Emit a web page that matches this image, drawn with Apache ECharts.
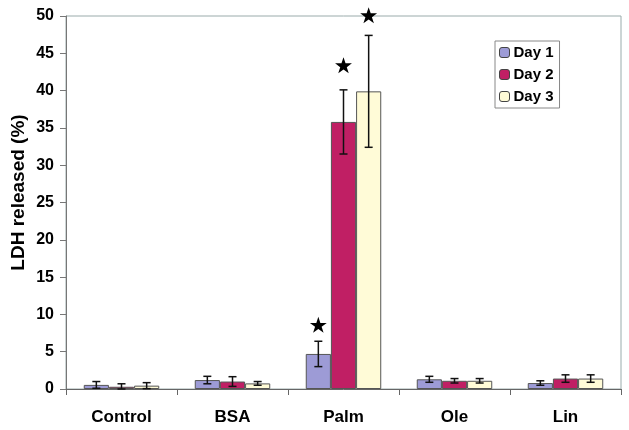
<!DOCTYPE html>
<html>
<head>
<meta charset="utf-8">
<script src="https://cdn.jsdelivr.net/npm/echarts@6/dist/echarts.min.js"></script>
<style>html,body{margin:0;padding:0;background:#fff}#c{width:629px;height:430px}</style>
</head>
<body>
<div id="c"></div>
<script>
const categories = ['Control', 'BSA', 'Palm', 'Ole', 'Lin'];
const seriesNames = ['Day 1', 'Day 2', 'Day 3'];
const day1 = [0.55, 1.2, 4.7, 1.3, 0.8];
const day2 = [0.3, 1.0, 35.8, 1.1, 1.4];
const day3 = [0.45, 0.75, 39.9, 1.1, 1.4];
const err1 = [0.45, 0.5, 1.7, 0.4, 0.3];
const err2 = [0.4, 0.65, 4.3, 0.3, 0.5];
const err3 = [0.4, 0.25, 7.5, 0.3, 0.5];
const starCats = ['Palm', 'Palm', 'Palm'];
const starDays = [0, 1, 2];
const starY = [8.6, 43.4, 50.1];
const yTicks = [0, 5, 10, 15, 20, 25, 30, 35, 40, 45, 50];

const colors = ['#9d9bd6', '#c01f64', '#fffbd7'];
const values = [day1, day2, day3];
const errs = [err1, err2, err3];
const FONT = "'Liberation Sans', Arial, sans-serif";
const GAP = 0.32;
const STAR = 'M50,0 L61.8,35.5 L99,35.5 L69,57.5 L80.5,93 L50,71 L19.5,93 L31,57.5 L1,35.5 L38.2,35.5 Z';

const chart = echarts.init(document.getElementById('c'), null, {renderer: 'canvas'});

const series = [];
values.forEach((vals, d) => {
  series.push({
    name: seriesNames[d], type: 'bar', data: vals,
    barGap: '0%', barCategoryGap: (GAP * 100) + '%',
    itemStyle: {color: colors[d], borderColor: '#555', borderWidth: 1},
    emphasis: {disabled: true}, z: 2
  });
});
values.forEach((vals, d) => {
  series.push({
    type: 'custom', z: 5, silent: true,
    data: categories.map((c, i) => [i, vals[i], errs[d][i]]),
    encode: {x: 0, y: 1},
    renderItem: function (params, api) {
      const ci = api.value(0), v = api.value(1), e = api.value(2);
      const c = api.coord([ci, v]);
      const band = api.size([1, 0])[0];
      const bw = band * (1 - GAP) / 3;
      const x = c[0] + (d - 1) * bw;
      const top = api.coord([ci, v + e])[1];
      const bot = api.coord([ci, Math.max(v - e, 0)])[1];
      const cap = 4;
      const st = {stroke: '#111', lineWidth: 1.5};
      return {type: 'group', children: [
        {type: 'line', shape: {x1: x, y1: top, x2: x, y2: bot}, style: st},
        {type: 'line', shape: {x1: x - cap, y1: top, x2: x + cap, y2: top}, style: st},
        {type: 'line', shape: {x1: x - cap, y1: bot, x2: x + cap, y2: bot}, style: st}
      ]};
    }
  });
});
series.push({
  type: 'custom', z: 6, silent: true,
  data: starY.map((y, k) => [categories.indexOf(starCats[k]), y, starDays[k]]),
  encode: {x: 0, y: 1},
  renderItem: function (params, api) {
    const ci = api.value(0), y = api.value(1), d = api.value(2);
    const c = api.coord([ci, y]);
    const band = api.size([1, 0])[0];
    const bw = band * (1 - GAP) / 3;
    const x = c[0] + (d - 1) * bw;
    const w = 17, h = 16;
    return {type: 'path', shape: {pathData: STAR, x: x - w / 2, y: c[1] - h / 2, width: w, height: h},
      style: {fill: '#000'}};
  }
});

chart.setOption({
  animation: false,
  backgroundColor: '#fff',
  textStyle: {fontFamily: FONT},
  grid: {left: 66, top: 16, right: 8, bottom: 41, show: true, borderColor: '#9aabab', borderWidth: 1},
  legend: {
    data: seriesNames, orient: 'vertical', left: 495, top: 41,
    itemWidth: 10, itemHeight: 10, itemGap: 7,
    padding: [4, 6, 4, 4],
    backgroundColor: '#fff', borderColor: '#888', borderWidth: 1, borderRadius: 0,
    textStyle: {fontFamily: FONT, fontWeight: 'bold', fontSize: 15, color: '#000', padding: [0, 0, 0, -1]},
    itemStyle: {borderColor: '#444', borderWidth: 1},
    selectedMode: false
  },
  xAxis: {
    type: 'category', data: categories,
    axisLine: {lineStyle: {color: '#666', width: 1}},
    axisTick: {show: true, length: 6, lineStyle: {color: '#666'}},
    axisLabel: {fontFamily: FONT, fontWeight: 'bold', fontSize: 17, color: '#000', margin: 20}
  },
  yAxis: {
    type: 'value', min: yTicks[0], max: yTicks[yTicks.length - 1], interval: yTicks[1] - yTicks[0],
    name: 'LDH released (%)', nameLocation: 'middle', nameGap: 38, nameMoveOverlap: false,
    nameTextStyle: {fontFamily: FONT, fontWeight: 'bold', fontSize: 19, color: '#000', padding: [0, 0, 0, 20]},
    axisLine: {show: true, lineStyle: {color: '#777', width: 1}},
    axisTick: {show: true, length: 6, lineStyle: {color: '#777'}},
    splitLine: {show: false},
    axisLabel: {fontFamily: FONT, fontWeight: 'bold', fontSize: 16, color: '#000', margin: 12}
  },
  series: series
});
</script>
</body>
</html>
